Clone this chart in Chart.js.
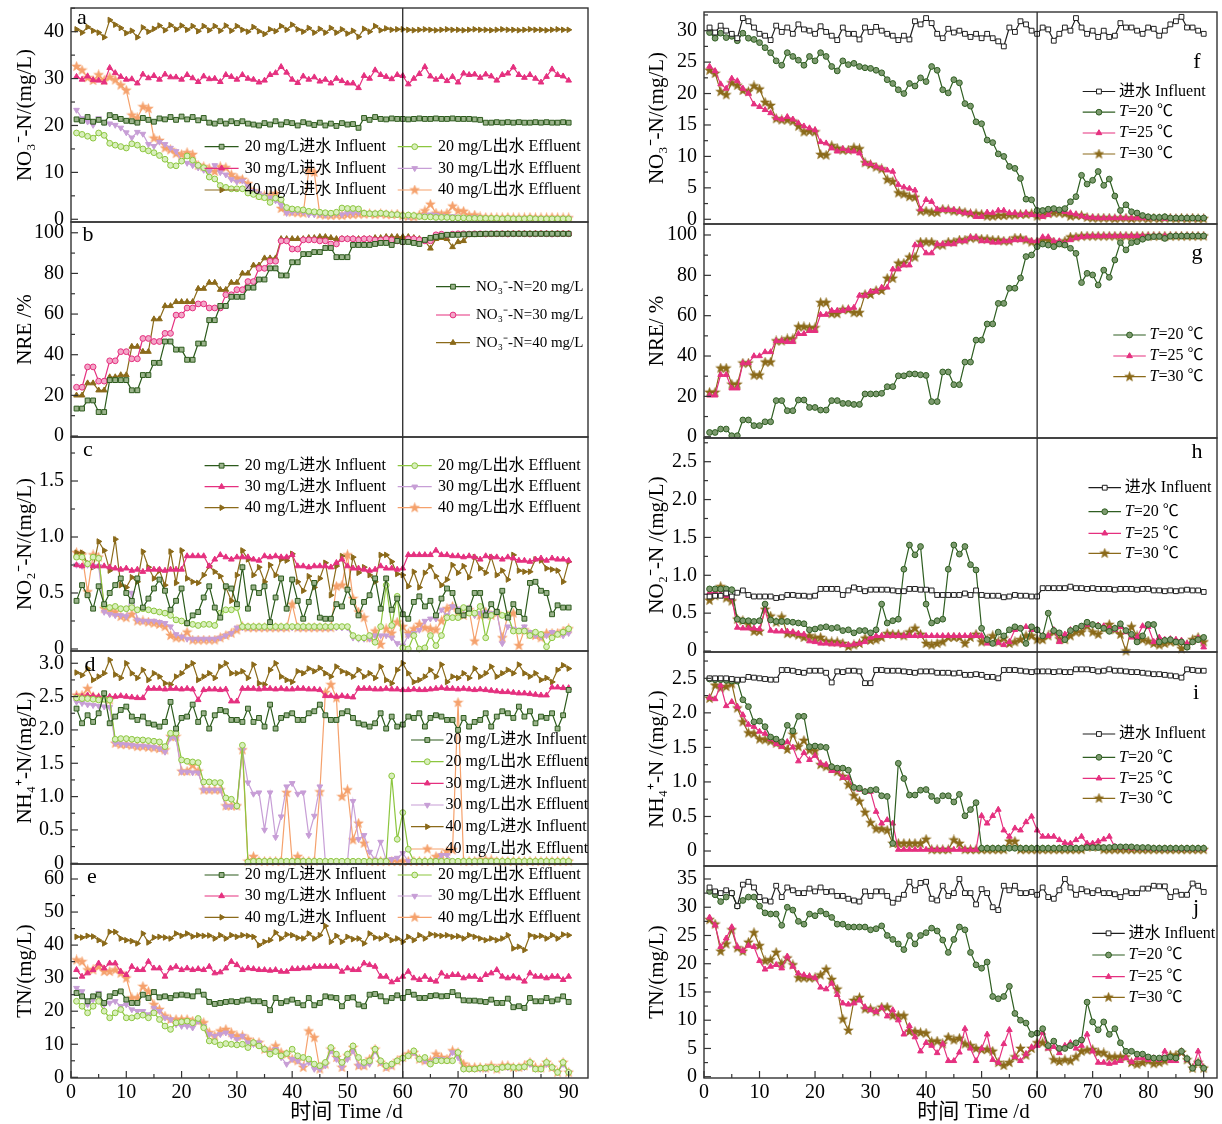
<!DOCTYPE html>
<html><head><meta charset="utf-8">
<script src="https://cdn.jsdelivr.net/npm/chart.js@4.4.1/dist/chart.umd.min.js"></script>
<style>html,body{margin:0;padding:0;background:#fff}body{width:1222px;height:1124px;position:relative;overflow:hidden}</style>
</head><body>
<script>
// ---------------- DATA ----------------
const days = [1,2,3,4,5,6,7,8,9,10,11,12,13,14,15,16,17,18,19,20,21,22,23,24,25,26,27,28,29,30,31,32,33,34,35,36,37,38,39,40,41,42,43,44,45,46,47,48,49,50,51,52,53,54,55,56,57,58,59,60,61,62,63,64,65,66,67,68,69,70,71,72,73,74,75,76,77,78,79,80,81,82,83,84,85,86,87,88,89,90];
const xTickLabels = [0,10,20,30,40,50,60,70,80,90];

// (a) NO3-N, mg/L
const a_in20 = [21.3,21.0,21.8,20.8,21.2,20.6,22.2,21.8,21.4,21.0, 20.9,20.6,21.6,21.2,20.8,21.5,21.3,21.8,21.2,21.9, 21.3,21.8,21.1,21.6,20.6,20.4,20.9,20.4,20.9,20.5, 20.9,20.4,20.2,20.0,20.5,20.2,20.9,20.2,20.7,20.5, 20.0,20.7,20.4,20.1,20.6,20.0,20.4,19.9,20.5,20.2, 20.3,19.5,21.6,21.2,21.8,21.4,21.3,21.5,21.4,21.4, 21.3,21.4,21.5,21.4,21.4,21.5,21.4,21.4,21.5,21.4, 21.4,21.4,21.3,21.2,20.6,20.6,20.7,20.6,20.7,20.6, 20.7,20.6,20.6,20.7,20.6,20.7,20.6,20.6,20.7,20.6];
const a_ef20 = [18.4,18.1,17.7,17.3,18.4,17.9,16.2,15.8,15.5,15.2, 16.1,15.8,15.0,14.6,14.2,13.6,12.8,11.5,11.4,12.4, 13.5,12.6,11.5,11.0,9.0,8.6,7.2,6.8,6.5,6.5, 6.5,5.6,5.3,4.8,4.6,3.6,4.5,4.2,2.5,2.2, 2.1,2.0,1.7,1.6,1.5,1.4,1.3,1.5,2.4,2.3, 2.3,2.2,1.3,1.2,1.2,1.3,1.2,1.0,1.0,0.8, 0.9,0.8,0.6,0.5,0.5,0.4,0.4,0.4,0.3,0.3, 0.3,0.2,0.2,0.2,0.2,0.2,0.2,0.1,0.2,0.1, 0.1,0.1,0.2,0.1,0.1,0.1,0.1,0.1,0.1,0.1];
const a_in30 = [30.4,29.8,30.5,29.7,29.6,29.2,32.3,31.2,30.4,29.8, 29.9,29.0,30.9,30.1,30.6,29.8,30.9,30.3,30.3,29.8, 30.8,30.1,29.3,30.5,29.9,30.0,29.3,30.8,30.4,29.8, 30.8,30.0,29.8,29.2,29.6,30.8,31.2,32.5,31.3,29.8, 29.1,30.5,29.8,30.3,29.4,29.8,29.0,30.0,29.5,29.0, 29.0,28.0,30.6,30.0,31.8,30.8,30.4,29.9,30.8,30.6, 28.8,30.0,31.0,32.5,30.5,29.8,30.4,29.5,30.4,29.2, 31.1,30.8,30.9,30.2,30.9,30.5,29.6,30.8,31.1,32.4, 30.8,30.2,30.8,30.0,29.2,30.4,32.0,30.8,30.5,29.6];
const a_ef30 = [23.3,21.5,20.8,20.1,21.5,20.7,20.4,20.1,19.5,18.5, 17.4,18.6,18.2,16.0,15.6,16.5,16.0,15.2,14.5,12.5, 12.0,11.5,11.0,10.5,10.2,11.5,10.0,9.5,8.5,8.0, 8.2,7.0,6.0,5.5,5.0,4.6,4.0,3.0,1.3,1.5, 1.6,1.5,1.0,1.0,1.1,0.9,1.0,1.2,1.0,1.3, 1.3,1.5,1.4,1.3,1.2,1.3,1.2,1.1,1.0,0.8, 0.6,0.7,0.6,0.8,1.0,0.9,0.7,0.6,0.6,0.5, 0.4,0.3,0.4,0.3,0.2,0.2,0.2,0.2,0.2,0.2, 0.2,0.2,0.2,0.2,0.2,0.2,0.2,0.2,0.2,0.2];
const a_in40 = [40.5,39.8,41.0,40.2,39.8,38.8,42.5,41.5,40.8,39.7, 40.2,38.8,40.9,40.0,40.6,41.3,40.3,41.4,40.5,41.3, 40.4,41.2,40.1,41.2,40.3,41.2,40.2,41.3,40.2,41.2, 40.4,40.0,41.0,40.1,39.5,40.5,40.1,41.2,40.4,41.5, 40.5,40.0,40.8,39.8,40.6,39.8,40.8,39.8,40.5,39.6, 40.2,38.9,40.6,40.0,41.2,40.3,40.7,40.4,40.5,40.5, 40.4,40.3,40.4,40.5,40.4,40.3,40.4,40.5,40.4,40.4, 40.3,40.4,40.5,40.4,40.4,40.3,40.4,40.5,40.4,40.4, 40.3,40.4,40.5,40.4,40.4,40.3,40.4,40.5,40.4,40.4];
const a_ef40 = [32.6,31.8,30.2,29.6,30.8,29.6,30.3,29.7,28.6,27.5, 22.2,21.6,24.0,23.6,17.3,16.8,15.2,14.8,14.0,13.8, 14.2,13.8,11.5,11.2,10.8,10.2,11.2,11.0,9.5,8.8, 8.5,7.6,6.0,5.2,5.0,5.0,5.5,2.3,1.7,1.5, 1.4,1.3,10.3,10.0,1.0,0.9,0.8,0.9,0.8,1.0, 1.0,1.1,1.1,1.2,1.0,1.2,1.0,1.0,1.1,0.8, 0.6,0.5,0.9,1.8,3.2,1.3,1.0,1.3,2.8,1.8, 1.7,0.8,0.9,0.5,0.4,0.4,0.3,0.3,0.4,0.3, 0.3,0.3,0.4,0.3,0.3,0.3,0.4,0.3,0.3,0.3];

// (b) NRE, %
const b_20 = [13.5,13.5,17.5,17.5,11.8,11.8,27.5,27.5,27.5,27.5, 22.5,22.5,30.0,30.0,36.0,36.0,46.5,46.5,42.5,42.5, 37.5,37.5,45.5,45.5,57.0,57.0,64.0,64.0,68.5,68.5, 68.5,73.0,73.0,77.0,77.0,82.5,82.5,79.0,79.0,85.5, 85.5,89.5,89.5,90.5,90.5,92.5,92.5,88.0,88.0,88.0, 94.0,94.0,94.0,94.0,94.5,95.0,95.0,94.0,96.0,95.5, 95.5,95.0,94.5,96.5,97.5,98.0,98.5,99.0,99.0,99.0, 99.2,99.3,99.3,99.4,99.5,99.5,99.5,99.5,99.5,99.5, 99.5,99.5,99.5,99.5,99.5,99.5,99.5,99.5,99.5,99.5];
const b_30 = [24,24,34,34,27,27,37,37,41.5,41.5, 38,38,48,48,46.5,46.5,50.5,50.5,59.5,59.5, 63,63,65,65,63,63,63,69.5,69.5,72, 72,76,76,82.5,82.5,86,86,96,96,92, 92,96.5,96.5,96.5,96,96,94.5,94.5,97,97, 97,96.5,97,97,96.5,96.5,97,96.5,96,95.5, 97,97,96.5,96,96,99,99.3,98.8,99.3,99.5, 99.5,99.4,99.5,99.5,99.4,99.5,99.5,99.5,99.4,99.5, 99.5,99.5,99.4,99.5,99.5,99.5,99.4,99.5,99.5,99.5];
const b_40 = [20,20,26,26,22.5,22.5,29,29,30,30, 44,44,41.5,41.5,57.5,57.5,64,64,66,66, 66,66,72.5,72.5,75.5,75.5,72,72,75.5,75.5, 80,80,84,84,87.5,87.5,87.5,97,97,97, 97,97,97.5,97.5,98,98,97.5,97,97,97, 97,97,97,97,97.5,97.5,98,98,98,98, 98,97.5,97,96,92.3,97,97.5,97,93,95.5, 96,99,99,99,99.2,99.3,99.3,99.4,99.5,99.5, 99.5,99.5,99.5,99.5,99.5,99.5,99.5,99.5,99.5,99.5];

// (c) NO2-N, mg/L
const c_in20 = [0.43,0.57,0.48,0.36,0.56,0.40,0.50,0.57,0.63,0.50, 0.43,0.63,0.37,0.45,0.54,0.62,0.52,0.35,0.43,0.54, 0.23,0.30,0.33,0.46,0.56,0.37,0.28,0.56,0.54,0.40, 0.73,0.36,0.55,0.50,0.56,0.24,0.46,0.63,0.36,0.62, 0.43,0.27,0.42,0.59,0.28,0.27,0.27,0.40,0.38,0.53, 0.42,0.30,0.42,0.48,0.63,0.36,0.63,0.35,0.45,0.31, 0.27,0.42,0.47,0.38,0.43,0.30,0.45,0.54,0.50,0.34, 0.30,0.36,0.50,0.50,0.30,0.40,0.33,0.52,0.28,0.40, 0.33,0.27,0.59,0.60,0.52,0.50,0.31,0.39,0.37,0.37];
const c_ef20 = [0.82,0.82,0.76,0.82,0.81,0.39,0.37,0.38,0.36,0.36, 0.37,0.35,0.36,0.35,0.34,0.33,0.32,0.30,0.26,0.25, 0.23,0.22,0.21,0.22,0.22,0.21,0.32,0.35,0.35,0.37, 0.20,0.20,0.20,0.20,0.20,0.20,0.20,0.20,0.20,0.20, 0.20,0.20,0.20,0.20,0.20,0.20,0.20,0.20,0.20,0.20, 0.12,0.10,0.10,0.12,0.06,0.20,0.57,0.21,0.47,0.01, 0.00,0.12,0.00,0.01,0.12,0.03,0.12,0.28,0.28,0.28, 0.37,0.32,0.32,0.38,0.10,0.30,0.33,0.30,0.30,0.16, 0.16,0.16,0.12,0.15,0.13,0.02,0.10,0.13,0.15,0.18];
const c_in30 = [0.75,0.74,0.76,0.74,0.74,0.74,0.73,0.72,0.71,0.72, 0.70,0.71,0.69,0.71,0.71,0.71,0.70,0.71,0.71,0.71, 0.83,0.83,0.83,0.83,0.74,0.80,0.84,0.82,0.80,0.82, 0.82,0.82,0.80,0.79,0.83,0.82,0.83,0.82,0.82,0.84, 0.74,0.74,0.73,0.74,0.74,0.74,0.73,0.77,0.80,0.74, 0.72,0.72,0.71,0.70,0.71,0.74,0.72,0.72,0.71,0.72, 0.84,0.84,0.84,0.84,0.84,0.88,0.84,0.84,0.83,0.83, 0.82,0.83,0.82,0.80,0.83,0.82,0.82,0.80,0.82,0.81, 0.79,0.79,0.78,0.80,0.81,0.79,0.81,0.80,0.80,0.79];
const c_ef30 = [0.75,0.74,0.75,0.74,0.74,0.33,0.31,0.30,0.30,0.29, 0.50,0.26,0.25,0.25,0.25,0.24,0.23,0.20,0.13,0.11, 0.09,0.09,0.09,0.09,0.09,0.09,0.10,0.12,0.14,0.19, 0.19,0.19,0.19,0.19,0.19,0.19,0.19,0.19,0.19,0.19, 0.19,0.19,0.19,0.19,0.19,0.19,0.19,0.19,0.19,0.19, 0.10,0.09,0.09,0.09,0.12,0.12,0.12,0.10,0.05,0.03, 0.12,0.14,0.17,0.25,0.27,0.27,0.35,0.30,0.38,0.36, 0.36,0.37,0.30,0.32,0.33,0.32,0.34,0.05,0.20,0.18, 0.17,0.20,0.15,0.12,0.11,0.12,0.15,0.14,0.12,0.14];
const c_in40 = [0.86,0.86,0.76,0.73,0.96,0.88,0.70,0.98,0.57,0.55, 0.64,0.60,0.87,0.73,0.63,0.70,0.57,0.87,0.59,0.88, 0.63,0.60,0.59,0.66,0.74,0.69,0.65,0.55,0.43,0.66, 0.88,0.80,0.66,0.73,0.60,0.75,0.66,0.80,0.79,0.85, 0.60,0.52,0.65,0.55,0.63,0.77,0.48,0.74,0.83,0.53, 0.82,0.68,0.73,0.66,0.60,0.84,0.84,0.78,0.67,0.66, 0.56,0.69,0.55,0.68,0.74,0.65,0.57,0.62,0.75,0.68, 0.74,0.64,0.82,0.72,0.68,0.82,0.66,0.70,0.62,0.84, 0.70,0.69,0.69,0.80,0.79,0.72,0.71,0.70,0.60,0.78];
const c_ef40 = [0.86,0.84,0.51,0.84,0.82,0.36,0.35,0.33,0.29,0.28, 0.31,0.25,0.25,0.24,0.23,0.22,0.20,0.12,0.10,0.10, 0.15,0.08,0.08,0.08,0.08,0.08,0.10,0.12,0.14,0.17, 0.20,0.19,0.19,0.19,0.19,0.19,0.19,0.19,0.19,0.40, 0.19,0.19,0.19,0.19,0.19,0.19,0.19,0.56,0.57,0.84, 0.45,0.33,0.28,0.10,0.16,0.04,0.18,0.14,0.24,0.20, 0.14,0.18,0.22,0.19,0.18,0.17,0.25,0.36,0.38,0.33, 0.30,0.35,0.07,0.30,0.33,0.30,0.32,0.10,0.30,0.32, 0.03,0.17,0.13,0.12,0.10,0.14,0.14,0.14,0.16,0.18];

// (d) NH4-N, mg/L
const d_in20 = [2.32,2.10,2.22,2.12,2.25,2.55,2.10,2.20,2.30,2.35, 2.20,2.15,2.20,2.10,2.08,2.05,2.12,2.42,2.02,2.18, 2.20,2.38,2.12,2.25,2.02,2.22,2.30,2.28,2.15,2.15, 2.12,2.32,2.12,2.18,2.05,2.38,2.02,2.18,2.22,2.25, 2.15,2.15,2.25,2.28,2.38,2.22,2.15,2.15,2.25,2.28, 2.18,2.10,2.08,2.05,2.10,2.25,2.02,2.20,2.05,2.08, 2.20,2.18,2.25,2.05,2.18,2.22,2.20,2.15,2.15,2.00, 2.18,2.05,2.12,2.15,2.25,2.05,2.20,2.28,2.25,2.18, 2.35,2.20,2.28,2.10,2.20,2.18,2.25,2.02,2.22,2.60];
const d_ef20 = [2.48,2.47,2.47,2.46,2.45,2.46,2.45,1.86,1.87,1.87, 1.86,1.85,1.85,1.84,1.83,1.82,1.75,1.95,1.95,1.55, 1.53,1.52,1.51,1.22,1.22,1.21,1.21,0.98,0.96,0.86, 1.77,0.02,0.03,0.03,0.03,0.03,0.03,0.03,0.03,0.03, 0.03,0.03,0.03,0.03,0.03,0.03,0.03,0.03,0.03,0.03, 0.03,0.03,0.03,0.03,0.03,0.03,0.03,1.31,0.36,0.76, 0.21,0.03,0.03,0.03,0.03,0.03,0.03,0.03,0.03,0.03, 0.03,0.03,0.03,0.03,0.03,0.03,0.03,0.03,0.03,0.03, 0.03,0.03,0.03,0.03,0.03,0.03,0.03,0.03,0.03,0.03];
const d_in30 = [2.50,2.50,2.52,2.51,2.50,2.49,2.50,2.50,2.51,2.50, 2.49,2.48,2.48,2.62,2.62,2.62,2.61,2.62,2.62,2.61, 2.62,2.61,2.45,2.60,2.61,2.61,2.60,2.61,2.43,2.43, 2.62,2.62,2.62,2.61,2.62,2.62,2.61,2.62,2.61,2.61, 2.62,2.62,2.61,2.61,2.60,2.51,2.51,2.50,2.51,2.50, 2.49,2.62,2.62,2.62,2.61,2.61,2.62,2.61,2.61,2.60, 2.60,2.61,2.60,2.60,2.61,2.62,2.63,2.62,2.62,2.61, 2.62,2.61,2.60,2.61,2.60,2.59,2.58,2.57,2.57,2.56, 2.55,2.55,2.54,2.53,2.52,2.52,2.64,2.64,2.63,2.63];
const d_ef30 = [2.42,2.40,2.38,2.37,2.36,2.35,2.34,1.80,1.79,1.78, 1.77,1.76,1.76,1.75,1.74,1.72,1.67,1.88,1.87,1.37, 1.37,1.36,1.36,1.10,1.10,1.10,1.10,0.85,0.85,0.85, 1.70,1.21,1.04,1.06,0.50,1.06,0.39,0.70,1.15,1.20, 1.04,1.06,0.42,0.71,1.15,0.02,0.02,0.02,0.02,0.02, 0.93,0.36,0.42,0.17,0.05,0.32,0.05,0.06,0.08,0.15, 0.03,0.03,0.03,0.03,0.03,0.03,0.12,0.12,0.03,0.03, 0.03,0.03,0.03,0.03,0.03,0.03,0.03,0.03,0.03,0.03, 0.03,0.03,0.03,0.03,0.03,0.03,0.03,0.03,0.03,0.03];
const d_in40 = [2.86,2.82,2.92,2.75,2.80,2.85,3.05,2.83,2.78,3.00, 2.85,2.78,2.90,2.75,2.85,2.80,2.70,2.68,2.80,2.85, 2.95,3.00,2.75,2.80,2.85,2.78,2.95,3.00,2.85,2.85, 2.88,2.78,2.98,2.70,2.68,2.90,3.00,2.80,2.75,2.72, 2.88,2.85,2.92,2.88,2.93,2.85,2.80,2.95,2.88,2.85, 2.80,2.90,2.80,2.85,2.78,2.95,2.75,2.70,2.90,3.00, 2.85,2.72,2.75,2.80,2.90,2.80,2.98,2.72,2.80,2.78, 2.85,2.78,2.92,2.80,2.85,2.95,2.80,2.85,2.90,2.85, 2.98,2.85,2.80,2.85,2.75,2.78,2.72,2.90,2.97,2.92];
const d_ef40 = [2.52,2.52,2.62,2.50,2.48,2.47,2.45,1.80,1.78,1.78, 1.77,1.75,1.75,1.74,1.73,1.72,1.70,1.90,1.90,1.38, 1.38,1.47,1.38,1.10,1.10,1.10,1.10,0.86,0.86,0.86, 1.70,0.03,0.10,0.03,0.03,0.03,0.03,0.03,1.06,0.03, 0.10,0.03,0.03,0.03,1.07,2.56,2.68,2.48,1.00,1.10, 0.35,0.60,0.30,0.03,0.03,0.03,0.03,0.03,0.03,0.03, 0.03,0.03,0.03,0.03,0.03,0.10,0.12,0.18,0.20,2.41, 0.03,0.03,0.03,0.05,0.05,0.05,0.03,0.03,0.03,0.03, 0.03,0.03,0.03,0.03,0.03,0.03,0.03,0.03,0.03,0.03];

// (e) TN, mg/L
const e_in20 = [25.5,24.5,23.0,24.5,25.0,22.5,24.5,25.5,26.0,23.5, 22.5,22.5,25.0,24.0,25.8,24.2,24.5,24.0,24.8,25.0, 24.8,24.5,26.0,25.0,22.8,22.2,22.5,22.8,23.0,22.8, 23.2,23.5,23.0,23.0,22.5,20.3,24.0,22.5,23.0,23.5, 22.5,21.8,24.0,21.8,22.5,24.5,24.2,24.0,21.5,24.0, 24.2,22.0,21.5,25.0,25.2,24.5,23.0,24.0,24.8,24.0, 25.8,25.0,24.0,24.0,24.6,24.8,24.5,24.6,25.8,24.8, 23.3,23.2,23.2,23.0,22.8,23.5,22.5,22.5,23.8,21.2, 21.5,21.0,24.0,23.0,23.0,24.0,23.0,23.5,24.5,22.8];
const e_ef20 = [23.0,21.5,19.5,21.5,23.0,20.0,18.0,19.5,20.5,18.0, 18.0,18.5,18.8,18.0,19.5,17.5,15.5,14.5,16.5,16.8, 17.0,16.5,17.8,15.0,11.0,10.8,9.8,10.2,10.0,9.8, 10.0,9.0,10.5,9.5,8.5,7.0,7.8,6.5,7.2,8.5, 6.5,6.0,5.5,4.0,3.5,4.5,9.0,7.0,4.5,7.0, 9.5,6.0,4.5,5.0,8.5,5.0,3.5,4.0,5.0,5.8, 6.5,8.0,5.5,6.0,4.0,5.0,5.0,5.0,5.0,7.5, 2.5,2.5,2.5,2.8,2.8,3.0,2.5,3.0,3.2,3.0, 3.0,3.2,4.5,2.5,2.5,4.5,3.0,1.5,4.5,1.5];
const e_in30 = [32.5,30.5,31.5,32.5,34.5,33.0,34.5,34.5,32.0,31.0, 33.5,32.5,32.5,35.0,33.0,33.0,30.5,33.0,33.5,32.5, 33.0,32.5,32.8,32.5,33.5,31.5,31.8,33.0,35.0,34.0, 32.5,33.0,32.8,32.5,32.5,32.3,32.5,32.0,32.0,32.8, 32.8,33.0,33.0,33.5,33.5,33.5,33.5,33.5,32.0,33.0, 32.5,32.5,34.5,34.0,33.5,30.5,30.5,28.8,29.5,30.5, 32.0,30.0,29.5,30.5,29.5,29.0,31.5,30.5,31.0,31.0, 30.0,30.5,30.5,29.5,31.0,31.5,32.5,30.5,30.0,30.5, 30.0,29.0,31.5,30.5,30.5,30.0,30.5,30.5,29.5,30.5];
const e_ef30 = [27.0,26.0,22.0,23.5,25.5,22.0,22.5,23.0,21.5,22.0, 20.5,20.0,20.0,19.0,21.0,20.0,18.0,17.5,16.0,15.5, 15.5,15.0,17.0,15.5,13.0,12.5,13.0,13.5,12.5,11.5, 12.5,10.5,10.0,10.5,8.5,7.5,8.5,6.0,4.0,5.5, 5.0,3.5,4.5,2.5,2.5,3.5,8.0,5.5,3.0,5.5, 8.0,3.5,3.5,4.0,8.0,4.5,3.0,3.5,5.0,5.5, 6.5,7.5,5.5,5.0,4.5,5.5,5.5,5.0,7.5,6.0, 2.5,2.5,2.5,2.5,2.5,3.0,2.5,3.0,3.0,3.0, 2.8,3.0,4.0,2.5,2.5,4.0,3.0,1.5,4.0,1.5];
const e_in40 = [42.5,42.3,42.8,42.6,41.5,40.5,44.0,44.0,42.0,41.5, 41.2,40.5,43.5,40.8,42.3,42.5,42.3,42.0,43.5,42.8, 43.5,42.6,43.0,42.8,42.9,42.0,43.0,42.0,43.0,42.5, 43.0,42.8,42.5,40.0,41.0,41.5,43.8,42.0,43.2,43.0, 42.2,42.0,43.5,42.0,43.0,45.8,41.0,42.8,41.0,42.5, 41.8,42.0,40.5,43.5,42.3,42.0,43.0,41.5,42.0,41.0, 42.5,41.5,43.0,42.0,43.3,43.0,42.8,43.0,42.5,42.7, 42.0,43.0,42.5,42.0,41.5,42.0,41.5,42.0,43.0,39.0, 39.5,38.5,43.0,42.5,42.8,42.0,43.0,42.0,43.2,43.0];
const e_ef40 = [35.5,35.0,32.5,32.5,33.5,32.0,32.0,32.5,31.5,30.0, 24.0,24.0,27.5,26.0,22.0,20.5,18.5,17.5,17.5,17.5, 17.5,17.0,17.0,16.5,13.5,12.5,14.0,14.5,13.5,12.5, 12.5,11.5,10.5,10.5,8.5,8.0,9.5,7.5,7.0,5.5, 5.0,3.0,14.0,12.0,2.5,4.0,8.5,6.0,3.0,6.5, 9.0,3.5,3.5,5.5,8.5,4.5,3.0,3.5,5.0,6.0, 7.0,7.5,5.5,5.0,5.0,7.0,6.0,5.5,8.0,7.5, 4.0,3.0,3.0,3.0,2.8,3.5,2.5,3.5,3.5,3.0, 3.0,3.5,4.5,3.0,2.8,4.5,3.0,1.5,4.5,1.5];

// (f) NO3-N, mg/L
const f_in = [30.5,29.7,30.8,30.0,29.5,28.8,32.0,31.5,30.5,29.5, 29.2,28.5,30.8,29.8,30.5,29.5,31.0,30.2,30.0,29.5, 30.7,29.8,29.2,28.5,30.5,29.5,29.5,28.6,30.5,29.8, 30.6,30.0,29.5,29.2,28.5,29.2,28.6,31.5,31.0,32.0, 31.2,29.5,28.8,30.3,29.7,30.0,29.5,29.0,29.5,28.8, 29.5,28.8,28.3,27.5,30.5,29.8,31.5,31.0,30.0,29.5, 30.5,30.2,28.4,29.5,30.5,30.0,32.0,30.5,29.5,30.0, 29.0,30.0,29.0,29.2,31.2,30.5,30.5,30.0,29.5,30.5, 30.3,29.2,30.0,31.0,31.5,32.2,30.5,30.5,30.0,29.5];
const f_t20 = [29.7,28.8,29.6,28.9,29.1,28.4,29.6,28.8,28.6,28.1, 27.3,26.5,25.2,24.5,26.5,25.9,25.3,24.5,25.9,25.2, 26.5,25.9,24.3,23.6,25.2,24.6,24.8,24.3,24.1,24.0, 23.7,23.3,22.2,21.6,20.6,20.0,21.6,21.2,22.5,21.9, 24.3,23.7,20.6,20.1,22.2,21.7,18.4,18.0,15.5,15.2, 12.6,12.2,10.4,10.0,8.4,8.1,6.5,3.2,3.1,1.4, 1.4,1.6,1.7,1.5,1.7,2.8,3.6,7.0,5.6,6.2, 7.6,5.4,6.4,3.7,1.4,2.3,1.2,1.0,0.6,0.4, 0.3,0.3,0.4,0.2,0.2,0.2,0.2,0.2,0.2,0.2];
const f_t25 = [24.3,23.6,21.5,20.8,22.4,22.0,20.8,20.0,18.3,17.9, 17.4,16.9,16.1,15.9,16.3,15.9,15.3,14.8,14.5,14.2, 12.3,12.1,11.3,10.8,11.2,10.9,10.8,10.5,8.9,8.8, 8.4,8.1,7.8,7.6,5.5,5.1,4.9,4.6,1.6,3.1, 2.8,1.6,1.5,1.5,1.5,1.2,1.0,1.0,0.4,0.4, 1.1,1.0,1.4,1.4,1.0,1.0,0.7,1.0,0.7,0.7, 0.4,0.7,1.5,1.4,1.2,1.0,0.8,0.5,0.3,0.3, 0.2,0.2,0.2,0.2,0.2,0.2,0.2,0.2,0.2,0.2, 0.2,0.2,0.1,0.2,0.2,0.1,0.2,0.2,0.1,0.2];
const f_t30 = [23.7,23.2,20.3,19.8,21.7,21.3,20.5,20.3,21.2,20.7, 18.6,18.1,16.0,15.8,15.8,15.6,14.8,13.9,14.0,13.9, 10.3,10.2,11.7,11.3,11.0,11.0,11.4,11.2,9.0,8.7, 8.3,8.0,6.3,6.0,4.2,4.0,3.6,3.5,1.3,1.3, 1.1,1.1,1.6,1.5,1.3,1.3,1.1,0.9,0.9,0.8, 0.5,0.5,0.6,0.6,0.7,0.7,0.8,0.8,0.9,0.5, 0.7,0.9,1.0,1.0,0.9,0.5,0.6,0.6,0.3,0.2, 0.2,0.2,0.2,0.1,0.2,0.2,0.1,0.2,0.2,0.1, 0.2,0.1,0.2,0.2,0.1,0.2,0.1,0.2,0.1,0.1];

// (g) NRE, %
const g_t20 = [2.1,2.1,3.8,3.8,0.5,0.5,8.3,8.3,5.5,5.5, 7.4,7.4,17.9,17.9,12.9,12.9,18.2,18.2,14.5,14.5, 13.2,13.2,17.9,17.9,16.5,16.5,16.0,16.0,21.2,21.2, 21.2,21.5,24.8,24.8,30.2,30.2,31.1,31.1,30.7,30.4, 17.4,17.4,32.1,32.1,25.8,25.8,37.0,37.0,47.9,47.9, 55.9,55.9,66.1,66.1,73.6,73.6,78.7,89.3,90.1,94.2, 95.5,95.0,94.2,95.5,95.0,93.4,90.9,76.4,81.0,80.2, 75.2,82.6,79.0,87.6,96.2,92.6,96.2,96.7,97.9,98.8, 99.2,99.3,98.3,99.4,99.5,99.5,99.5,99.5,99.5,99.5];
const g_t25 = [20.5,20.5,30.7,30.7,24.0,24.0,36.5,36.5,40.0,40.0, 42.0,42.0,47.5,47.5,47.0,47.0,51.0,51.0,52.5,52.5, 60.5,60.5,62.5,62.5,62.5,63.5,64.0,70.0,70.0,72.0, 72.0,74.0,74.0,83.0,83.0,85.0,85.0,95.0,95.0,91.0, 91.0,95.5,95.5,95.5,95.5,97.0,97.0,98.8,98.8,97.0, 97.0,96.3,96.3,97.0,97.0,97.5,97.5,97.8,97.0,97.0, 99.0,99.0,97.0,97.0,96.0,97.5,98.5,99.0,99.3,99.5, 99.5,99.5,99.5,99.5,99.5,99.5,99.5,99.5,99.5,99.5, 99.5,99.5,99.5,99.5,99.5,99.5,99.5,99.5,99.5,99.5];
const g_t30 = [22.0,22.0,34.0,34.0,26.0,26.0,36.5,36.5,30.5,30.5, 37.0,37.0,47.5,47.5,48.5,48.5,54.5,54.5,54.0,54.0, 66.5,66.5,61.0,61.0,63.0,63.0,61.5,61.5,70.5,70.5, 72.5,72.5,78.5,78.5,86.0,86.0,89.0,89.0,96.5,96.5, 96.5,95.0,95.0,96.5,96.5,97.5,97.5,98.5,98.5,98.0, 98.0,97.5,97.5,97.0,97.0,98.5,98.5,97.5,96.5,96.5, 97.5,97.5,96.5,96.0,97.0,99.0,99.0,99.5,99.5,99.5, 99.5,99.5,99.5,99.5,99.5,99.5,99.5,99.5,99.5,99.5, 99.5,99.5,99.5,99.5,99.5,99.5,99.5,99.5,99.5,99.5];

// (h) NO2-N, mg/L
const h_in = [0.72,0.73,0.73,0.76,0.72,0.77,0.80,0.74,0.72,0.72, 0.72,0.72,0.70,0.71,0.74,0.74,0.73,0.73,0.72,0.73, 0.82,0.82,0.82,0.82,0.74,0.80,0.84,0.82,0.79,0.81, 0.81,0.81,0.81,0.80,0.79,0.79,0.82,0.82,0.81,0.81, 0.80,0.74,0.74,0.74,0.74,0.74,0.76,0.74,0.80,0.74, 0.73,0.73,0.73,0.71,0.72,0.74,0.73,0.73,0.72,0.72, 0.83,0.83,0.83,0.83,0.83,0.85,0.83,0.83,0.82,0.83, 0.82,0.82,0.82,0.81,0.82,0.82,0.82,0.81,0.82,0.82, 0.80,0.80,0.79,0.80,0.79,0.80,0.81,0.80,0.80,0.78];
const h_t20 = [0.82,0.82,0.82,0.82,0.81,0.42,0.40,0.40,0.39,0.40, 0.62,0.41,0.39,0.39,0.39,0.38,0.37,0.36,0.28,0.29, 0.31,0.32,0.30,0.31,0.27,0.28,0.24,0.27,0.27,0.24, 0.28,0.62,0.37,0.40,0.42,1.08,1.40,1.27,1.38,0.62, 0.37,0.40,0.42,1.08,1.40,1.28,1.38,1.14,1.07,0.30, 0.15,0.10,0.25,0.20,0.28,0.32,0.30,0.10,0.32,0.28, 0.20,0.50,0.27,0.24,0.15,0.27,0.30,0.33,0.38,0.35, 0.33,0.30,0.26,0.30,0.36,0.27,0.22,0.12,0.20,0.35, 0.35,0.12,0.14,0.15,0.12,0.12,0.05,0.12,0.15,0.18];
const h_t25 = [0.77,0.78,0.75,0.73,0.70,0.31,0.30,0.30,0.30,0.29, 0.55,0.27,0.26,0.26,0.26,0.25,0.23,0.22,0.13,0.12, 0.10,0.10,0.09,0.09,0.08,0.08,0.09,0.10,0.12,0.18, 0.20,0.20,0.20,0.20,0.20,0.20,0.20,0.20,0.20,0.20, 0.20,0.20,0.20,0.20,0.20,0.20,0.20,0.20,0.20,0.20, 0.10,0.10,0.11,0.08,0.12,0.28,0.30,0.32,0.28,0.28, 0.20,0.20,0.28,0.12,0.22,0.28,0.30,0.32,0.35,0.35, 0.34,0.33,0.30,0.28,0.32,0.25,0.18,0.18,0.33,0.32, 0.12,0.18,0.15,0.16,0.15,0.14,0.10,0.12,0.17,0.05];
const h_t30 = [0.67,0.73,0.85,0.70,0.66,0.42,0.40,0.36,0.26,0.26, 0.55,0.46,0.38,0.45,0.23,0.23,0.21,0.18,0.20,0.17, 0.18,0.13,0.12,0.12,0.10,0.06,0.08,0.10,0.17,0.14, 0.15,0.18,0.23,0.22,0.22,0.20,0.25,0.30,0.22,0.10, 0.08,0.10,0.12,0.18,0.18,0.18,0.10,0.18,0.22,0.12, 0.15,0.20,0.12,0.17,0.10,0.12,0.15,0.20,0.20,0.15, 0.15,0.20,0.25,0.16,0.15,0.20,0.25,0.25,0.33,0.25, 0.22,0.30,0.35,0.28,0.22,0.00,0.32,0.20,0.15,0.13, 0.10,0.08,0.10,0.12,0.12,0.03,0.08,0.15,0.18,0.12];

// (i) NH4-N, mg/L
const i_in = [2.50,2.50,2.50,2.50,2.49,2.48,2.48,2.52,2.51,2.50, 2.49,2.48,2.48,2.62,2.62,2.61,2.59,2.58,2.61,2.61, 2.61,2.58,2.44,2.60,2.59,2.61,2.61,2.60,2.43,2.43, 2.62,2.62,2.61,2.61,2.61,2.60,2.59,2.58,2.60,2.60, 2.60,2.58,2.58,2.58,2.57,2.58,2.55,2.55,2.56,2.55, 2.52,2.52,2.50,2.62,2.62,2.62,2.61,2.60,2.59,2.60, 2.60,2.60,2.59,2.60,2.59,2.59,2.63,2.63,2.63,2.62, 2.60,2.61,2.63,2.61,2.61,2.60,2.59,2.59,2.58,2.57, 2.56,2.56,2.55,2.54,2.53,2.51,2.63,2.62,2.61,2.61];
const i_t20 = [2.49,2.48,2.48,2.47,2.46,2.46,2.19,2.09,1.87,1.88, 1.80,1.65,1.62,1.58,1.82,1.74,1.95,1.95,1.51,1.52, 1.51,1.50,1.22,1.20,1.20,1.17,0.92,0.91,0.86,0.88, 0.89,0.80,0.79,0.11,1.27,1.05,0.81,0.81,0.88,0.89, 0.79,0.73,0.80,0.80,0.71,0.82,0.51,0.60,0.70,0.04, 0.04,0.04,0.04,0.04,0.04,0.04,0.04,0.04,0.04,0.04, 0.04,0.04,0.04,0.04,0.04,0.04,0.04,0.04,0.05,0.05, 0.05,0.05,0.05,0.06,0.06,0.06,0.06,0.05,0.05,0.05, 0.04,0.04,0.04,0.04,0.04,0.04,0.04,0.04,0.04,0.04];
const i_t25 = [2.22,2.20,2.40,2.10,2.16,2.09,1.97,1.83,1.80,1.73, 1.70,1.62,1.55,1.51,1.58,1.50,1.30,1.42,1.32,1.38, 1.27,1.25,1.16,1.17,1.06,1.06,0.91,0.89,0.86,0.86, 0.57,0.40,0.45,0.40,0.02,0.02,0.02,0.02,0.02,0.02, 0.02,0.02,0.02,0.02,0.02,0.02,0.02,0.02,0.02,0.51, 0.40,0.51,0.60,0.30,0.21,0.33,0.30,0.42,0.50,0.30, 0.21,0.21,0.21,0.16,0.12,0.11,0.16,0.21,0.11,0.11, 0.14,0.17,0.21,0.06,0.05,0.05,0.04,0.04,0.04,0.04, 0.03,0.03,0.03,0.03,0.03,0.03,0.03,0.03,0.03,0.03];
const i_t30 = [2.21,2.40,2.36,2.38,2.42,2.07,1.87,1.71,1.70,1.62, 1.61,1.59,1.56,1.54,1.47,1.69,1.51,1.60,1.46,1.45, 1.25,1.22,1.20,1.15,1.08,0.96,0.80,0.72,0.56,0.41, 0.32,0.32,0.30,0.11,0.11,0.11,0.11,0.11,0.11,0.17, 0.02,0.02,0.02,0.02,0.16,0.11,0.02,0.02,0.02,0.02, 0.02,0.02,0.02,0.02,0.14,0.14,0.02,0.02,0.02,0.02, 0.02,0.02,0.02,0.02,0.02,0.02,0.02,0.02,0.06,0.06, 0.06,0.02,0.02,0.02,0.02,0.02,0.02,0.02,0.02,0.02, 0.02,0.02,0.02,0.02,0.02,0.02,0.02,0.02,0.02,0.02];

// (j) TN, mg/L
const j_in = [33.5,32.8,32.5,33.0,32.5,30.2,34.0,34.5,33.5,31.8, 31.2,31.0,33.8,31.8,33.5,33.0,32.5,32.5,33.3,32.8, 33.5,32.7,32.8,32.0,32.0,31.5,31.2,31.0,32.8,32.0, 32.8,32.8,32.0,30.8,31.5,32.2,34.5,33.0,34.3,34.5, 31.5,31.2,33.8,32.0,32.5,35.0,32.5,32.5,30.5,33.2, 32.5,30.0,29.5,33.8,33.0,33.8,32.5,32.5,32.7,32.2, 33.5,31.8,31.5,33.0,35.0,33.5,32.2,33.2,32.8,32.5, 33.0,32.5,32.5,32.3,31.8,32.8,32.5,32.5,33.3,33.3, 33.8,33.7,33.7,31.8,32.8,32.2,32.2,34.2,33.8,32.7];
const j_t20 = [32.8,32.2,31.0,31.8,32.5,30.2,31.2,31.8,31.8,30.2, 29.0,28.8,28.8,26.8,30.0,29.5,27.5,27.0,28.8,28.5, 29.3,28.8,28.2,27.0,27.0,26.5,26.5,26.5,26.5,26.0, 26.2,26.7,25.0,24.3,23.5,22.5,25.0,23.5,25.0,25.5, 26.3,25.8,24.2,22.0,24.3,26.5,26.0,22.0,19.8,19.2, 20.3,14.2,13.8,14.2,16.0,11.2,10.0,9.5,7.5,7.7, 8.5,5.5,6.3,5.0,5.0,5.5,6.0,6.5,13.2,9.7, 8.3,9.7,7.5,8.5,6.0,4.5,4.5,4.0,4.0,3.5, 3.3,3.3,3.3,3.5,3.3,4.5,3.2,1.5,2.5,1.5];
const j_t25 = [28.2,26.8,23.0,24.5,26.5,23.0,22.3,23.2,23.0,20.5, 19.0,19.5,19.8,19.2,21.3,19.5,18.3,18.0,17.8,17.5, 15.8,15.5,16.5,14.5,13.0,12.8,13.0,13.5,12.3,11.8, 11.5,12.2,10.7,11.8,10.0,7.5,9.0,7.0,4.5,6.0, 5.5,4.2,5.8,2.8,2.8,4.3,8.5,5.0,2.8,5.0, 7.5,3.0,2.5,5.8,8.3,3.5,2.8,4.0,5.2,5.5, 7.8,5.0,5.3,4.2,5.5,6.0,5.0,5.5,7.5,4.5, 2.5,2.5,2.3,2.5,2.8,3.3,2.6,3.3,3.3,3.0, 3.3,3.0,4.5,2.8,2.8,4.5,3.0,1.5,4.5,1.5];
const j_t30 = [27.8,27.0,22.2,23.5,26.0,22.8,22.2,23.8,25.5,23.2, 20.5,20.7,22.0,20.0,21.0,19.8,17.5,17.5,17.5,17.5, 18.0,19.0,17.2,15.5,10.2,8.2,13.5,14.0,12.0,12.0, 11.5,12.3,12.3,10.8,10.8,10.8,8.0,8.0,7.8,7.7, 6.2,6.3,5.8,7.0,6.5,6.8,5.8,5.5,5.0,4.8, 4.8,4.5,2.5,2.0,2.5,3.5,5.0,3.8,5.0,6.0, 6.0,5.3,3.0,2.7,3.0,2.8,3.5,4.5,4.7,4.8, 4.3,4.2,3.5,3.5,3.5,3.5,2.5,2.2,2.5,2.8, 2.3,2.5,2.8,3.8,3.8,4.3,3.0,1.5,2.5,1.5];

// y-axis tick values
const aTicks=[0,10,20,30,40], bTicks=[0,20,40,60,80,100], cTicks=[0,0.5,1.0,1.5], dTicks=[0,0.5,1.0,1.5,2.0,2.5,3.0], eTicks=[0,10,20,30,40,50,60];
const fTicks=[0,5,10,15,20,25,30], gTicks=[0,20,40,60,80,100], hTicks=[0,0.5,1.0,1.5,2.0,2.5], iTicks=[0,0.5,1.0,1.5,2.0,2.5], jTicks=[0,5,10,15,20,25,30,35];

// labels
const leftLabels = ['20 mg/L进水 Influent','20 mg/L出水 Effluent','30 mg/L进水 Influent','30 mg/L出水 Effluent','40 mg/L进水 Influent','40 mg/L出水 Effluent'];
const bLabels = ['NO₃⁻-N=20 mg/L','NO₃⁻-N=30 mg/L','NO₃⁻-N=40 mg/L'];
const rightLabels = ['进水 Influent','T=20 ℃','T=25 ℃','T=30 ℃'];
const xTitle = '时间 Time /d';

// ---------------- STYLE ----------------
const FONT = "'Liberation Serif','Times New Roman','Noto Sans CJK SC',serif";
function starImg(color){
  const c=document.createElement('canvas'); c.width=11; c.height=11;
  const g=c.getContext('2d'); g.fillStyle=color; g.strokeStyle=color; g.lineWidth=0.6; g.beginPath();
  for(let k=0;k<10;k++){const r=k%2?2.1:5.0; const a=-Math.PI/2+k*Math.PI/5; g.lineTo(5.5+r*Math.cos(a),5.6+r*Math.sin(a));}
  g.closePath(); g.fill(); g.stroke(); return c;
}
const C = {dk:'#2c5a1c', lt:'#8cc63f', pk:'#e5307f', li:'#c79ed6', ol:'#8b6a1a', or:'#f5a16c', bk:'#1e1e1e'};
const S = {
  in20:{c:C.dk, f:'#9bb38c', ps:'rect', r:3.4},
  ef20:{c:C.lt, f:'#d9efbd', ps:'circle', r:2.9},
  in30:{c:C.pk, f:C.pk, ps:'triangle', r:3.3},
  ef30:{c:C.li, f:C.li, ps:'triangle', rot:180, r:3.3},
  in40:{c:C.ol, f:C.ol, ps:'triangle', rot:90, r:3.2},
  ef40:{c:C.or, f:C.or, ps:starImg(C.or), r:4},
  b30:{c:C.pk, f:'#f3a6c8', ps:'circle', r:2.9},
  b40:{c:C.ol, f:C.ol, ps:'triangle', r:3.3},
  inR:{c:C.bk, f:'#ffffff', ps:'rect', r:3.4},
  t20:{c:'#2f5e22', f:'#7d9a6f', ps:'circle', r:2.9},
  t25:{c:C.pk, f:C.pk, ps:'triangle', r:3.3},
  t30:{c:C.ol, f:C.ol, ps:starImg(C.ol), r:4}
};

// ---------------- LAYOUT ----------------
const LC = {x:0, w:600, yW:71, pr:12, xmax:93.5, tpad:13, xt:{x:346.5,y:1112}};
const RC = {x:620, w:602, yW:84, pr:5, xmax:92.4, tpad:25, xt:{x:973.5,y:1112}};
const FS = 20;

function L2(x1, x2, rows, tx1, tx2){ // two-column legend of 6 items
  return {len:34, fs:16, items:[
    {ds:0,x:x1,tx:tx1,y:rows[0]},{ds:2,x:x1,tx:tx1,y:rows[1]},{ds:4,x:x1,tx:tx1,y:rows[2]},
    {ds:1,x:x2,tx:tx2,y:rows[0]},{ds:3,x:x2,tx:tx2,y:rows[1]},{ds:5,x:x2,tx:tx2,y:rows[2]}]};
}
function L1(x, tx, rows, len, fs){ return {len:len||33, fs:fs||16, items: rows.map((y,i)=>({ds:i,x:x,tx:tx,y:y}))}; }

const leftSix = (a,b,c,d,e,f)=>[
  {label:leftLabels[0],arr:a,st:S.in20},{label:leftLabels[1],arr:b,st:S.ef20},
  {label:leftLabels[2],arr:c,st:S.in30},{label:leftLabels[3],arr:d,st:S.ef30},
  {label:leftLabels[4],arr:e,st:S.in40},{label:leftLabels[5],arr:f,st:S.ef40}];
const rightFour = (a,b,c,d)=>[
  {label:rightLabels[0],arr:a,st:S.inR},{label:rightLabels[1],arr:b,st:S.t20},
  {label:rightLabels[2],arr:c,st:S.t25},{label:rightLabels[3],arr:d,st:S.t30}];

const panels = [
  {col:LC, top:8, bot:222, ymin:-0.58, ymax:45.05, ticks:aTicks, minor:5, dec:0, title:'NO₃⁻-N/(mg/L)', letter:['a',82,18],
   series:leftSix(a_in20,a_ef20,a_in30,a_ef30,a_in40,a_ef40), legend:L2(204.6,397.7,[146.7,168.3,190],244.7,437.9)},
  {col:LC, top:222, bot:437, ymin:-0.49, ymax:105.3, ticks:bTicks, minor:10, dec:0, title:'NRE /%', letter:['b',88,235],
   series:[{label:bLabels[0],arr:b_20,st:S.in20},{label:bLabels[1],arr:b_30,st:S.b30},{label:bLabels[2],arr:b_40,st:S.b40}],
   legend:L1(436,476,[286.7,315,342.7],34,15)},
  {col:LC, top:437, bot:651, ymin:-0.018, ymax:1.893, ticks:cTicks, minor:0.25, dec:1, title:'NO₂⁻-N/(mg/L)', letter:['c',88,450],
   series:leftSix(c_in20,c_ef20,c_in30,c_ef30,c_in40,c_ef40), legend:L2(204.6,397.7,[465.7,486.7,507.7],244.7,437.9)},
  {col:LC, top:651, bot:864, ymin:-0.011, ymax:3.184, ticks:dTicks, minor:0.25, dec:1, title:'NH₄⁺-N/(mg/L)', letter:['d',90,665],
   series:leftSix(d_in20,d_ef20,d_in30,d_ef30,d_in40,d_ef40), legend:L1(411,445.5,[740,761.7,783.3,805,826.7,849],32.6)},
  {col:LC, top:864, bot:1078, ymin:-0.21, ymax:64.54, ticks:eTicks, minor:5, dec:0, title:'TN/(mg/L)', letter:['e',92,877], bottom:true,
   series:leftSix(e_in20,e_ef20,e_in30,e_ef30,e_in40,e_ef40), legend:L2(204.6,397.7,[875,896,917.3],244.7,437.9)},
  {col:RC, top:12, bot:224, ymin:-0.75, ymax:32.97, ticks:fTicks, minor:2.5, dec:0, title:'NO₃⁻-N/(mg/L)', letter:['f',1197,62],
   series:rightFour(f_in,f_t20,f_t25,f_t30), legend:L1(1082.7,1119,[91.5,112.2,133,154],32.5)},
  {col:RC, top:224, bot:438, ymin:-0.64, ymax:105.45, ticks:gTicks, minor:10, dec:0, title:'NRE/ %', letter:['g',1197,253],
   series:[{label:rightLabels[1],arr:g_t20,st:S.t20},{label:rightLabels[2],arr:g_t25,st:S.t25},{label:rightLabels[3],arr:g_t30,st:S.t30}],
   legend:L1(1113.3,1149.6,[335,356,376.7],32.5)},
  {col:RC, top:438, bot:652, ymin:-0.013, ymax:2.813, ticks:hTicks, minor:0.25, dec:1, title:'NO₂⁻-N /(mg/L)', letter:['h',1197,452],
   series:rightFour(h_in,h_t20,h_t25,h_t30), legend:L1(1088.5,1124.8,[487.7,511.7,533.3,553.3],32.5)},
  {col:RC, top:652, bot:866, ymin:-0.217, ymax:2.881, ticks:iTicks, minor:0.25, dec:1, title:'NH₄⁺-N /(mg/L)', letter:['i',1196,693],
   series:rightFour(i_in,i_t20,i_t25,i_t30), legend:L1(1082.7,1119,[734,757.3,778.3,798.3],32.5)},
  {col:RC, top:866, bot:1078, ymin:-0.23, ymax:37.3, ticks:jTicks, minor:2.5, dec:0, title:'TN/(mg/L)', letter:['j',1196,908], bottom:true,
   series:rightFour(j_in,j_t20,j_t25,j_t30), legend:L1(1092.3,1128.6,[933.3,955,976.7,997.3],32.5)}
];

// ---------------- PLUGIN: frame, ticks, reference line, legend, letters ----------------
const deco = {
  id:'deco',
  afterDraw(chart, args, o){
    const ctx=chart.ctx, ca=chart.chartArea, xs=chart.scales.x, ys=chart.scales.y, off=o.off;
    const seg=(x1,y1,x2,y2)=>{ctx.beginPath();ctx.moveTo(x1,y1);ctx.lineTo(x2,y2);ctx.stroke();};
    ctx.save();
    ctx.strokeStyle='#000'; ctx.lineWidth=1.1;
    const xv=xs.getPixelForValue(o.vline); seg(xv,ca.top,xv,ca.bottom);
    ctx.strokeStyle='#333'; ctx.lineWidth=1.4;
    ctx.strokeRect(ca.left,ca.top,ca.right-ca.left,ca.bottom-ca.top);
    ctx.lineWidth=1.2;
    o.yMajor.forEach(v=>{const p=ys.getPixelForValue(v); seg(ca.left,p,ca.left+7,p);});
    const st=o.yMinor, first=Math.ceil((ys.min)/st)*st;
    for(let v=first; v<=ys.max+1e-9; v+=st){
      if(o.yMajor.some(m=>Math.abs(m-v)<1e-6)) continue;
      const p=ys.getPixelForValue(v); seg(ca.left,p,ca.left+4,p);
    }
    if(o.xTicks){
      for(let v=0; v<=90; v+=5){
        const p=xs.getPixelForValue(v); seg(p,ca.bottom,p,ca.bottom-(v%10===0?7:4));
      }
      ctx.fillStyle='#000'; ctx.font=`21px ${FONT}`; ctx.textAlign='center'; ctx.textBaseline='middle';
      ctx.fillText(o.xTitle.text, o.xTitle.x-off.x, o.xTitle.y-off.y);
    }
    ctx.fillStyle='#000'; ctx.font=`22px ${FONT}`; ctx.textAlign='center'; ctx.textBaseline='middle';
    ctx.fillText(o.letter[0], o.letter[1]-off.x, o.letter[2]-off.y);
    const lg=o.legend;
    lg.items.forEach(it=>{
      const ds=chart.data.datasets[it.ds]; const x0=it.x-off.x, y0=it.y-off.y;
      ctx.strokeStyle=ds.borderColor; ctx.lineWidth=ds.borderWidth; seg(x0,y0,x0+lg.len,y0);
      ctx.fillStyle=ds.pointBackgroundColor; ctx.strokeStyle=ds.pointBorderColor; ctx.lineWidth=1;
      if(Chart.helpers && Chart.helpers.drawPoint){
        Chart.helpers.drawPoint(ctx,{pointStyle:ds.pointStyle,rotation:ds.pointRotation||0,radius:ds.pointRadius,borderWidth:1},x0+lg.len/2,y0);
      }
      ctx.fillStyle='#000'; ctx.textAlign='left'; ctx.textBaseline='middle';
      let tx=it.tx-off.x, txt=ds.label;
      if(txt.startsWith('T=')){
        ctx.font=`italic ${lg.fs}px ${FONT}`; ctx.fillText('T',tx,y0); tx+=ctx.measureText('T').width; txt=txt.slice(1);
      }
      ctx.font=`${lg.fs}px ${FONT}`; ctx.fillText(txt,tx,y0);
    });
    ctx.restore();
  }
};

// ---------------- BUILD ----------------
panels.forEach(p=>{
  const col=p.col, PADT=24;
  const ctop=p.top-PADT;
  const h = p.bottom ? 1124-ctop : (p.bot-p.top)+2*PADT;
  const cv=document.createElement('canvas');
  cv.width=col.w; cv.height=h;
  cv.style.cssText=`position:absolute;left:${col.x}px;top:${ctop}px;width:${col.w}px;height:${h}px`;
  document.body.appendChild(cv);
  const fmt = v => (v===0 ? '0' : v.toFixed(p.dec));
  new Chart(cv,{
    type:'line',
    data:{datasets:p.series.map(s=>({
      label:s.label,
      data:days.map((d,i)=>({x:d,y:s.arr[i]})),
      borderColor:s.st.c, backgroundColor:s.st.f,
      pointBackgroundColor:s.st.f, pointBorderColor:s.st.c,
      pointStyle:s.st.ps, pointRotation:s.st.rot||0, pointRadius:s.st.r, pointBorderWidth:1,
      borderWidth:1.2, tension:0, fill:false, clip:8
    }))},
    options:{
      responsive:false, animation:false, devicePixelRatio:1,
      layout:{padding:{left:0,right:col.pr,top:PADT,bottom:p.bottom?0:PADT}},
      plugins:{legend:{display:false}, tooltip:{enabled:false},
        deco:{off:{x:col.x,y:ctop}, vline:60, yMajor:p.ticks, yMinor:p.minor, xTicks:!!p.bottom,
              xTitle:{text:xTitle,x:col.xt.x,y:col.xt.y}, letter:p.letter, legend:p.legend}},
      scales:{
        x:{type:'linear', min:0, max:col.xmax, display:!!p.bottom,
           afterBuildTicks:s=>{s.ticks=xTickLabels.map(v=>({value:v}));},
           ticks:{font:{family:FONT,size:FS}, color:'#000', padding:3, maxRotation:0, autoSkip:false},
           grid:{display:false, drawTicks:false}, border:{display:false},
           afterFit:s=>{s.height = p.bottom ? 46 : 0;}},
        y:{type:'linear', min:p.ymin, max:p.ymax,
           afterBuildTicks:s=>{s.ticks=p.ticks.map(v=>({value:v}));},
           ticks:{font:{family:FONT,size:FS}, color:'#000', padding:7, callback:fmt, autoSkip:false},
           grid:{display:false, drawTicks:false}, border:{display:false},
           title:{display:true, text:p.title, color:'#000', font:{family:FONT,size:21}, padding:{top:col.tpad,bottom:0}},
           afterFit:s=>{s.width=col.yW;}}
      }
    },
    plugins:[deco]
  });
});
</script>
</body></html>
